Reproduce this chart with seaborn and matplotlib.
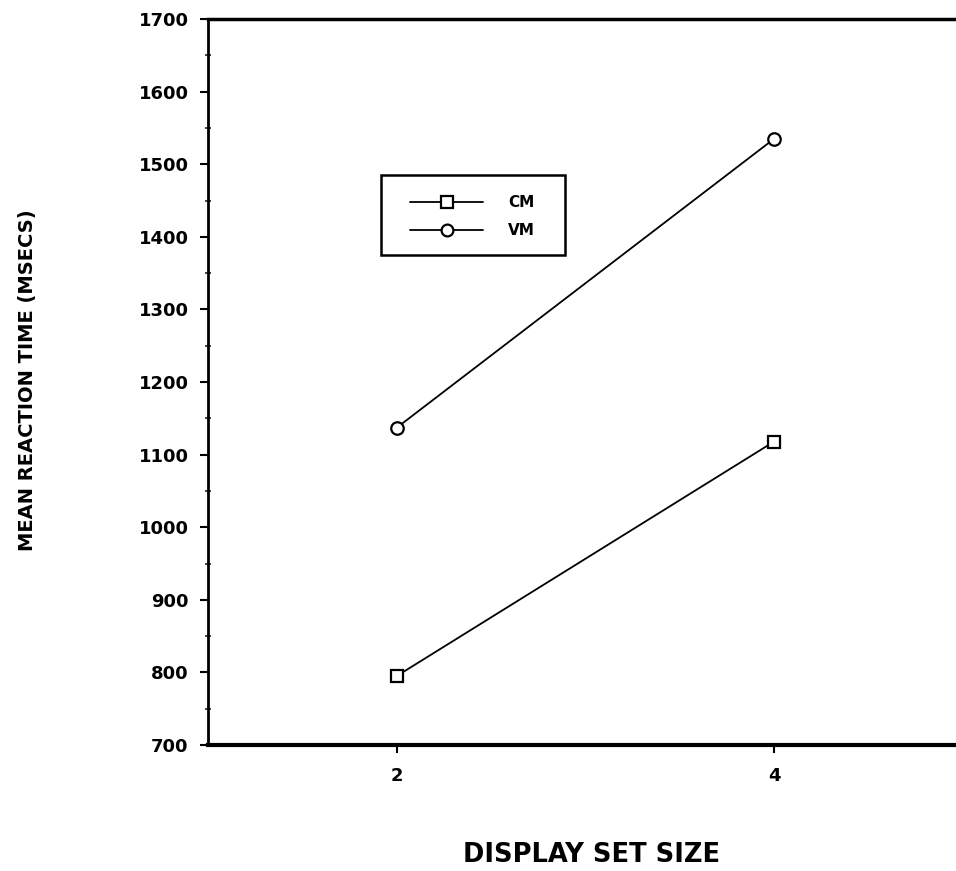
import pandas as pd
import seaborn as sns
import matplotlib.pyplot as plt
from matplotlib.lines import Line2D
from matplotlib.patches import Rectangle

# valores
set_size = [2, 4]
cm_rt = [795, 1118]
vm_rt = [1137, 1535]
conds = ["CM", "VM"]

df = pd.DataFrame({
    "size": set_size + set_size,
    "rt": cm_rt + vm_rt,
    "cond": [conds[0]] * 2 + [conds[1]] * 2,
})

sns.set_theme(style="ticks")
plt.rcParams['font.family'] = ['DejaVu Sans']
plt.rcParams['font.weight'] = 'bold'
plt.rcParams['text.color'] = 'black'

W, H = 956, 871
fig = plt.figure(figsize=(W / 100, H / 100), dpi=100)
ax = fig.add_axes([208/W, 126/H, 748/W, 726/H])

sns.lineplot(data=df, x="size", y="rt", style="cond", markers={"CM": "s", "VM": "o"},
             dashes=False, color="black", linewidth=1.3, markersize=9,
             markerfacecolor="white", markeredgecolor="black", markeredgewidth=1.6,
             ax=ax, legend=False)

ax.set_xlim(1, 1 + 748/188.7)
ax.set_ylim(700, 1700)
ax.set_xticks(set_size)
ax.set_yticks(range(700, 1701, 100))
ax.set_yticks(range(750, 1700, 100), minor=True)
ax.tick_params(axis="both", which="major", direction="out", length=6, width=1.5,
               labelsize=13, pad=8, colors="black")
ax.tick_params(axis="y", which="minor", direction="inout", length=4, width=1.2)
ax.tick_params(axis="x", which="major", pad=10)
for lab in ax.get_xticklabels() + ax.get_yticklabels():
    lab.set_fontweight("bold")

ax.spines["right"].set_visible(False)
ax.spines["left"].set_linewidth(2)
ax.spines["bottom"].set_linewidth(3)
ax.spines["top"].set_linewidth(2.5)
for s in ["left", "bottom", "top"]:
    ax.spines[s].set_color("black")

ax.set_xlabel("")
ax.set_ylabel("")
fig.text(592/W, 1 - 855/H, "DISPLAY SET SIZE", ha="center", va="center",
         fontsize=18.5, fontweight="bold", color="black")
fig.text(28/W, 1 - 380/H, "MEAN REACTION TIME (MSECS)", ha="center", va="center",
         rotation=90, fontsize=14, fontweight="bold", color="black")

# leyenda: caja dibujada aparte
fig.patches.append(Rectangle((381/W, 1 - 255/H), (565 - 381)/W, 80/H,
                             transform=fig.transFigure, fill=False,
                             edgecolor="black", linewidth=1.8))
handles = [Line2D([], [], color="black", lw=1.3, marker=m, markersize=8.5,
                  markerfacecolor="white", markeredgewidth=1.6) for m in ["s", "o"]]
leg = ax.legend(handles, conds, loc="upper left", bbox_to_anchor=(410/W, 1 - 195/H),
                bbox_transform=fig.transFigure, frameon=False,
                handlelength=4.8, handletextpad=1.6, borderpad=0, labelspacing=0.85,
                borderaxespad=0, prop={"size": 11, "weight": "bold"})
for t in leg.get_texts():
    t.set_color("black")

plt.savefig("out.png", dpi=100)
